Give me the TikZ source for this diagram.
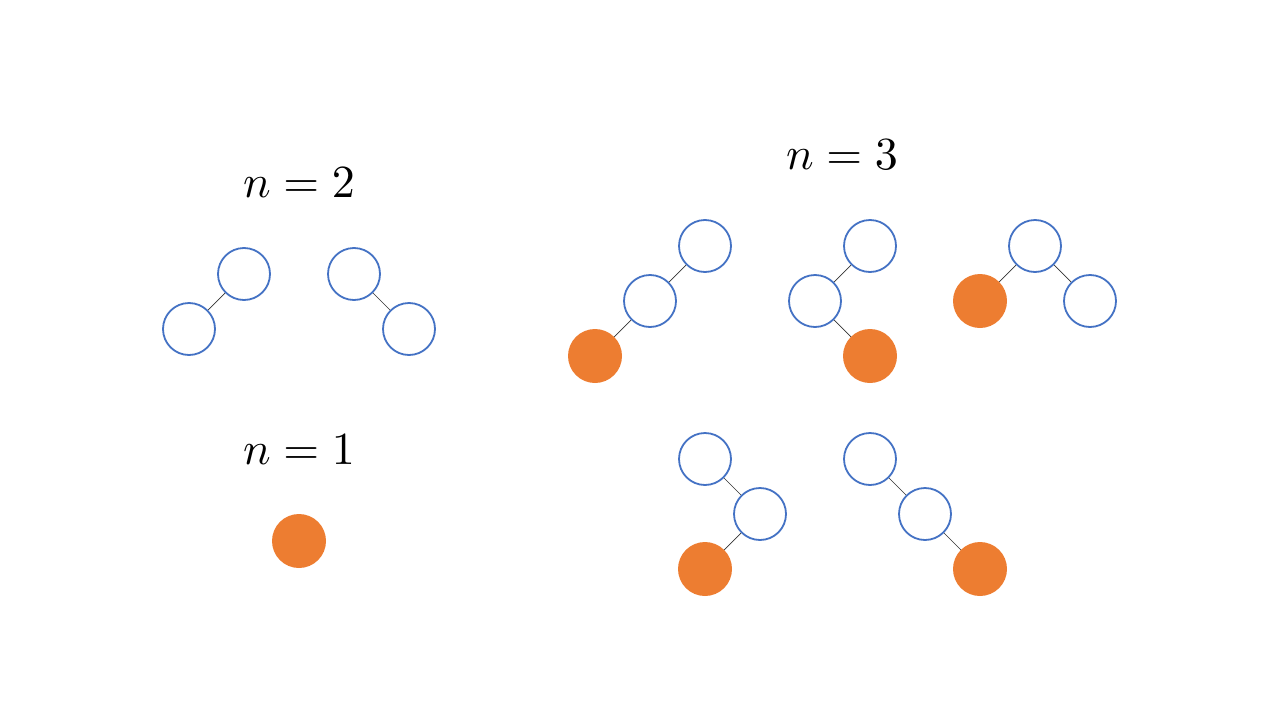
\documentclass[tikz,border=0pt]{standalone}
\begin{document}
\begin{tikzpicture}[x=1pt,y=-1pt,
  emptynode/.style={circle,draw=blueC,line width=1.8pt,fill=white,minimum size=52pt,inner sep=0pt},
  leafnode/.style={circle,fill=orangeC,minimum size=54pt,inner sep=0pt},
  edge/.style={draw=black!80,line width=0.7pt},
  lbl/.style={inner sep=0pt}]
\definecolor{blueC}{HTML}{4472C4}
\definecolor{orangeC}{HTML}{ED7D31}
\useasboundingbox (0,0) rectangle (1280,720);
% labels
\node[lbl] (l2) at (299,183) {\scalebox{4.6}{$n=2$}};
\node[lbl] (l3) at (842,155) {\scalebox{4.6}{$n=3$}};
\node[lbl] (l1) at (299,450) {\scalebox{4.6}{$n=1$}};
% n=2
\node[emptynode] (a1) at (244,274) {};
\node[emptynode] (a2) at (189,329) {};
\draw[edge] (a1) -- (a2);
\node[emptynode] (b1) at (354,274) {};
\node[emptynode] (b2) at (409,329) {};
\draw[edge] (b1) -- (b2);
% n=1
\node[leafnode] (c1) at (299,541) {};
% n=3 tree 1
\node[emptynode] (d1) at (705,246) {};
\node[emptynode] (d2) at (650,301) {};
\node[leafnode] (d3) at (595,356) {};
\draw[edge] (d1) -- (d2);
\draw[edge] (d2) -- (d3);
% tree 2
\node[emptynode] (e1) at (870,246) {};
\node[emptynode] (e2) at (815,301) {};
\node[leafnode] (e3) at (870,356) {};
\draw[edge] (e1) -- (e2);
\draw[edge] (e2) -- (e3);
% tree 3
\node[emptynode] (f1) at (1035,246) {};
\node[leafnode] (f2) at (980,301) {};
\node[emptynode] (f3) at (1090,301) {};
\draw[edge] (f1) -- (f2);
\draw[edge] (f1) -- (f3);
% tree 4
\node[emptynode] (g1) at (705,459) {};
\node[emptynode] (g2) at (760,514) {};
\node[leafnode] (g3) at (705,569) {};
\draw[edge] (g1) -- (g2);
\draw[edge] (g2) -- (g3);
% tree 5
\node[emptynode] (h1) at (870,459) {};
\node[emptynode] (h2) at (925,514) {};
\node[leafnode] (h3) at (980,569) {};
\draw[edge] (h1) -- (h2);
\draw[edge] (h2) -- (h3);
\end{tikzpicture}
\end{document}
